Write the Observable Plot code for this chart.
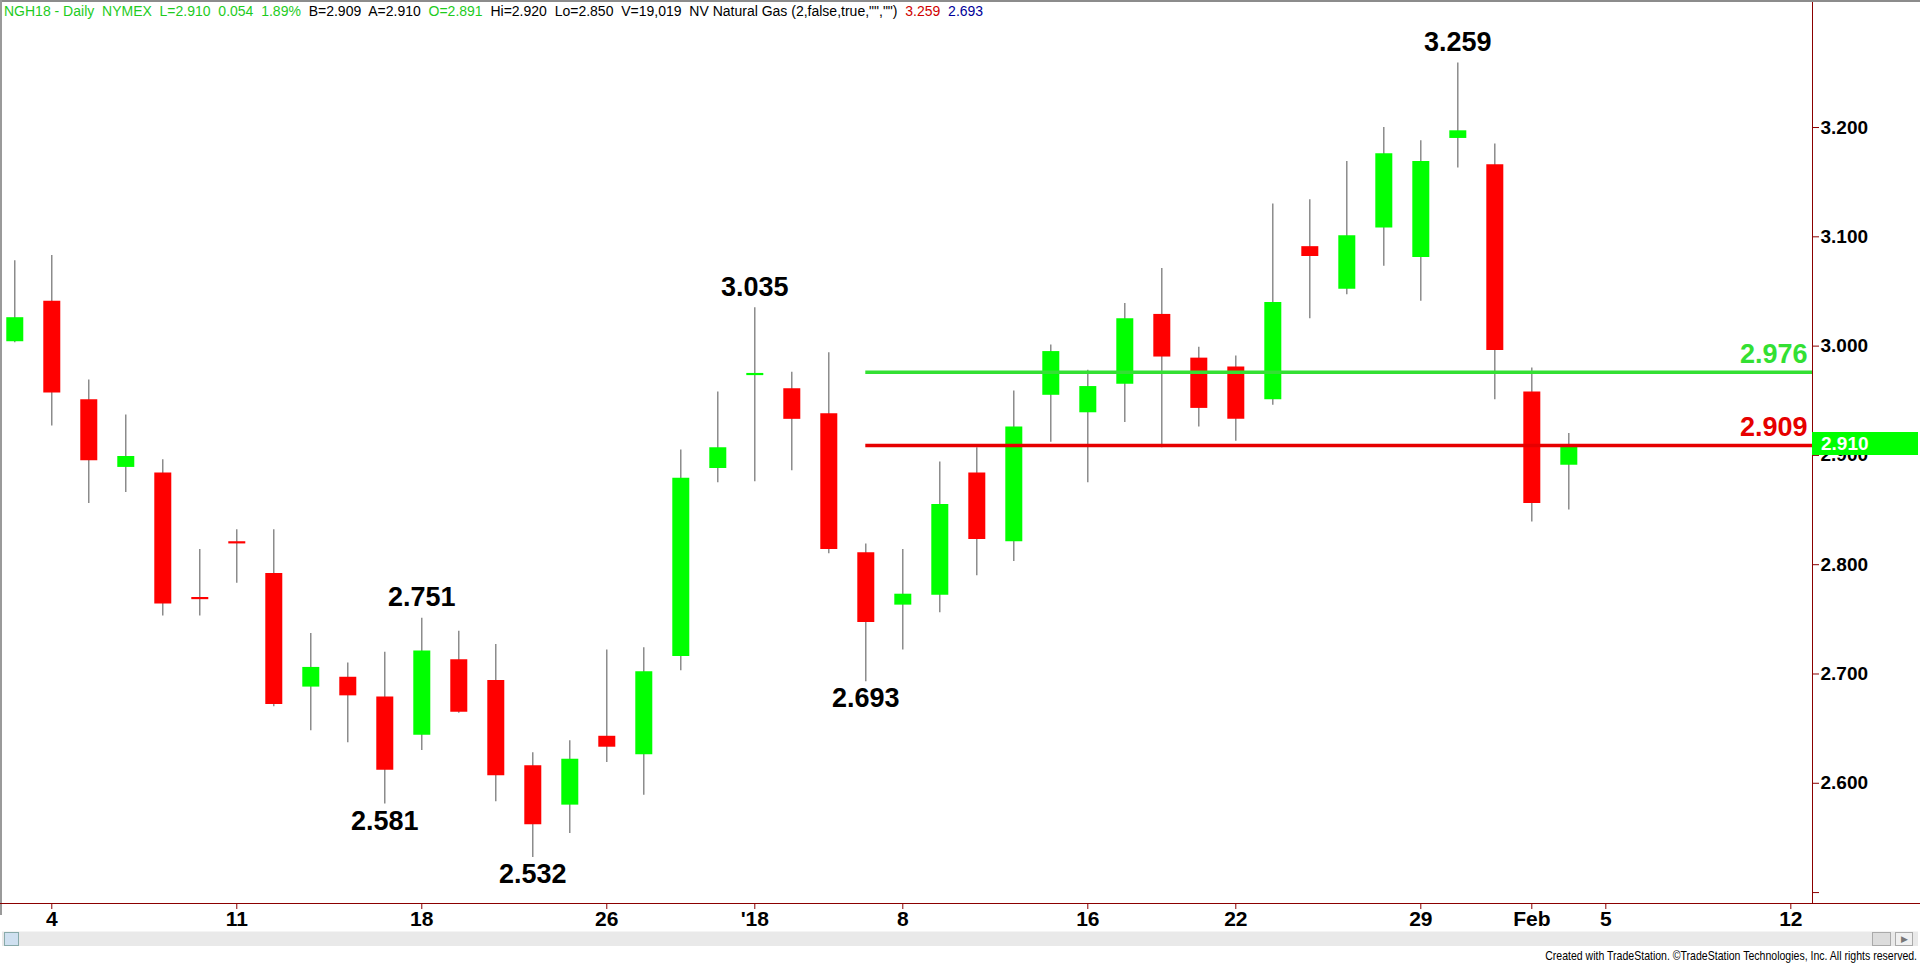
<!DOCTYPE html>
<html><head><meta charset="utf-8">
<script src="https://cdn.jsdelivr.net/npm/d3@7"></script>
<script src="https://cdn.jsdelivr.net/npm/@observablehq/plot@0.6"></script>
<style>
html,body{margin:0;padding:0;background:#fff;overflow:hidden}
#wrap{position:relative;width:1920px;height:964px;overflow:hidden}
#chart{position:absolute;left:0;top:0}
#header{position:absolute;left:4px;top:3px;font:14px "Liberation Sans",Arial,sans-serif;white-space:pre;z-index:3;color:#000}
#header .g{color:#1ecb1e}
#header .r{color:#d00000}
#header .b{color:#000099}
.topline{position:absolute;left:0;top:0;width:1920px;height:2px;background:#8c8c8c}
.leftline{position:absolute;left:0;top:0;width:2px;height:915px;background:#9a9a9a}
.xline{position:absolute;left:0;width:1920px;height:1px;background:#8b0000}
.scroll{position:absolute;left:2px;top:931px;width:1916px;height:14px;background:#e9e9e9;border-top:1px solid #f4f4f4}
.btnL{position:absolute;left:4px;top:932px;width:13px;height:12px;background:#cfe0f0;border:1px solid #8aa}
.thumb{position:absolute;left:1872px;top:932px;width:17px;height:12px;background:#dcdcdc;border:1px solid #aaa}
.btnR{position:absolute;left:1895px;top:932px;width:16px;height:12px;background:#f0f0f0;border:1px solid #aaa;font:9px sans-serif;text-align:center;line-height:12px;color:#777}
#caption{position:absolute;right:3px;top:948px;font:13px "Liberation Sans",Arial,sans-serif;color:#000;white-space:pre;transform:scaleX(0.81);transform-origin:right center}
#last{position:absolute;left:1812px;width:106px;height:23px;background:#00ff00;color:#fff;font:bold 19px "Liberation Sans",Arial,sans-serif;line-height:23px;padding-left:9px;box-sizing:border-box;z-index:2}
</style></head>
<body><div id="wrap">
<div id="chart"></div>
<div class="topline"></div><div class="leftline"></div>
<div id="header"><span class="g">NGH18 - Daily  NYMEX  L=2.910  0.054  1.89%</span>  B=2.909  A=2.910  <span class="g">O=2.891</span>  Hi=2.920  Lo=2.850  V=19,019  NV Natural Gas (2,false,true,"","")  <span class="r">3.259</span>  <span class="b">2.693</span></div>
<div class="scroll"></div><div class="btnL"></div><div class="thumb"></div><div class="btnR">&#9654;</div>
<div id="caption">Created with TradeStation. ©TradeStation Technologies, Inc. All rights reserved.</div>
</div>
<script>
// Daily NYMEX natural gas (NGH18) bars
const dates = ["2017-12-01","2017-12-04","2017-12-05","2017-12-06","2017-12-07","2017-12-08","2017-12-11","2017-12-12","2017-12-13","2017-12-14","2017-12-15","2017-12-18","2017-12-19","2017-12-20","2017-12-21","2017-12-22","2017-12-26","2017-12-27","2017-12-28","2017-12-29","2018-01-02","2018-01-03","2018-01-04","2018-01-05","2018-01-08","2018-01-09","2018-01-10","2018-01-11","2018-01-12","2018-01-16","2018-01-17","2018-01-18","2018-01-19","2018-01-22","2018-01-23","2018-01-24","2018-01-25","2018-01-26","2018-01-29","2018-01-30","2018-01-31","2018-02-01","2018-02-02"];
const opens  = [3.004,3.041,2.951,2.889,2.884,2.770,2.821,2.792,2.688,2.697,2.679,2.644,2.713,2.694,2.616,2.580,2.643,2.626,2.716,2.888,2.973,2.961,2.938,2.811,2.763,2.772,2.884,2.821,2.955,2.939,2.965,3.029,2.989,2.981,2.951,3.091,3.052,3.108,3.081,3.190,3.166,2.958,2.891];
const highs  = [3.078,3.083,2.969,2.937,2.896,2.814,2.832,2.832,2.737,2.710,2.720,2.751,2.739,2.727,2.628,2.639,2.722,2.724,2.905,2.958,3.035,2.976,2.994,2.819,2.814,2.894,2.907,2.959,3.001,2.978,3.039,3.071,2.999,2.991,3.130,3.134,3.169,3.200,3.188,3.259,3.185,2.980,2.920];
const lows   = [3.003,2.927,2.856,2.866,2.753,2.753,2.783,2.670,2.648,2.637,2.581,2.630,2.664,2.583,2.532,2.554,2.619,2.589,2.703,2.875,2.876,2.886,2.810,2.693,2.722,2.756,2.790,2.803,2.912,2.875,2.930,2.907,2.926,2.913,2.946,3.025,3.047,3.073,3.041,3.163,2.951,2.839,2.850];
const closes = [3.026,2.957,2.895,2.899,2.764,2.768,2.819,2.672,2.706,2.680,2.612,2.721,2.665,2.607,2.562,2.622,2.633,2.702,2.879,2.907,2.975,2.933,2.814,2.747,2.773,2.855,2.823,2.926,2.995,2.963,3.025,2.990,2.943,2.933,3.040,3.082,3.101,3.176,3.169,3.197,2.996,2.856,2.910];

// x-axis ticks (bar index) and labels
const xTickIndex  = [1,6,11,16,20,24,29,33,38,41,43,48];
const xTickLabels = ["4","11","18","26","'18","8","16","22","29","Feb","5","12"];
// y-axis ticks
const yTicks = [2.5,2.6,2.7,2.8,2.9,3.0,3.1,3.2];
// marked swing highs / lows (bar index)
const swingHighIdx = [11,20,39];
const swingLowIdx  = [10,14,23];
// horizontal levels
const levelValues = [2.976, 2.909];
const levelColors = ["#33e033", "#e60000"];
const levelStartIdx = 23;
const lastPrice = 2.910;

const xDomain = [-0.386, 48.586];
const yDomain = [2.49, 3.3144];

const bars = dates.map((d,i)=>({i, date:d, open:opens[i], high:highs[i], low:lows[i], close:closes[i]}));
const levels = levelValues.map((v,k)=>({value:v, color:levelColors[k], start:levelStartIdx}));
const highsLbl = swingHighIdx.map(i=>({i, v:highs[i]}));
const lowsLbl = swingLowIdx.map(i=>({i, v:lows[i]}));

const W=1920, H=964, mL=0, mR=108, mT=2, mB=61;
const plot = Plot.plot({
  width:W, height:H, marginLeft:mL, marginRight:mR, marginTop:mT, marginBottom:mB,
  x:{domain:xDomain, axis:null},
  y:{domain:yDomain, axis:null},
  color:{type:"identity"},
  style:{background:"transparent", fontFamily:"'Liberation Sans', Arial, sans-serif", overflow:"visible"},
  marks:[
    Plot.ruleX(bars, {x:"i", y1:"low", y2:"high", stroke:"#7a7a7a", strokeWidth:1.3}),
    Plot.ruleX(bars, {x:"i", y1:"open", y2:"close", stroke:d=>d.close>=d.open?"#00ff00":"#ff0000", strokeWidth:17}),
    Plot.ruleY(levels, {y:"value", x1:"start", x2:xDomain[1], stroke:"color", strokeWidth:3.5}),
    Plot.text(levels, {x:xDomain[1], y:"value", text:d=>d.value.toFixed(3), fill:"color", textAnchor:"end", lineAnchor:"middle", dx:-5, dy:-18, fontSize:27, fontWeight:"bold"}),
    Plot.text(highsLbl, {x:"i", y:"v", text:d=>d.v.toFixed(3), fill:"black", lineAnchor:"middle", dy:-21, fontSize:27, fontWeight:"bold"}),
    Plot.text(lowsLbl, {x:"i", y:"v", text:d=>d.v.toFixed(3), fill:"black", lineAnchor:"middle", dy:17, fontSize:27, fontWeight:"bold"}),
    Plot.ruleX([xDomain[1]], {stroke:"#8b0000", strokeWidth:1}),
    Plot.axisY({anchor:"right", ticks:yTicks, tickFormat:d=>d<2.55?"":d.toFixed(3), tickSize:6, tickPadding:2, stroke:"#8b0000", fill:"black", fontSize:19, fontWeight:"bold"}),
    Plot.axisX({anchor:"bottom", ticks:xTickIndex, tickFormat:d=>xTickLabels[xTickIndex.indexOf(d)], tickSize:6, tickPadding:2, stroke:"#8b0000", fill:"black", fontSize:21, fontWeight:"bold"})
  ]
});
document.getElementById("chart").appendChild(plot);

// bottom axis line extends across the full width
const yScale = plot.scale("y");
const xl = document.createElement("div");
xl.className = "xline"; xl.style.top = (H - mB) + "px";
document.getElementById("wrap").appendChild(xl);
// last price marker on the price axis
const lp = document.createElement("div");
lp.id = "last"; lp.textContent = lastPrice.toFixed(3);
lp.style.top = (yScale.apply(lastPrice) - 11.5) + "px";
document.getElementById("wrap").appendChild(lp);
</script>
</body></html>
